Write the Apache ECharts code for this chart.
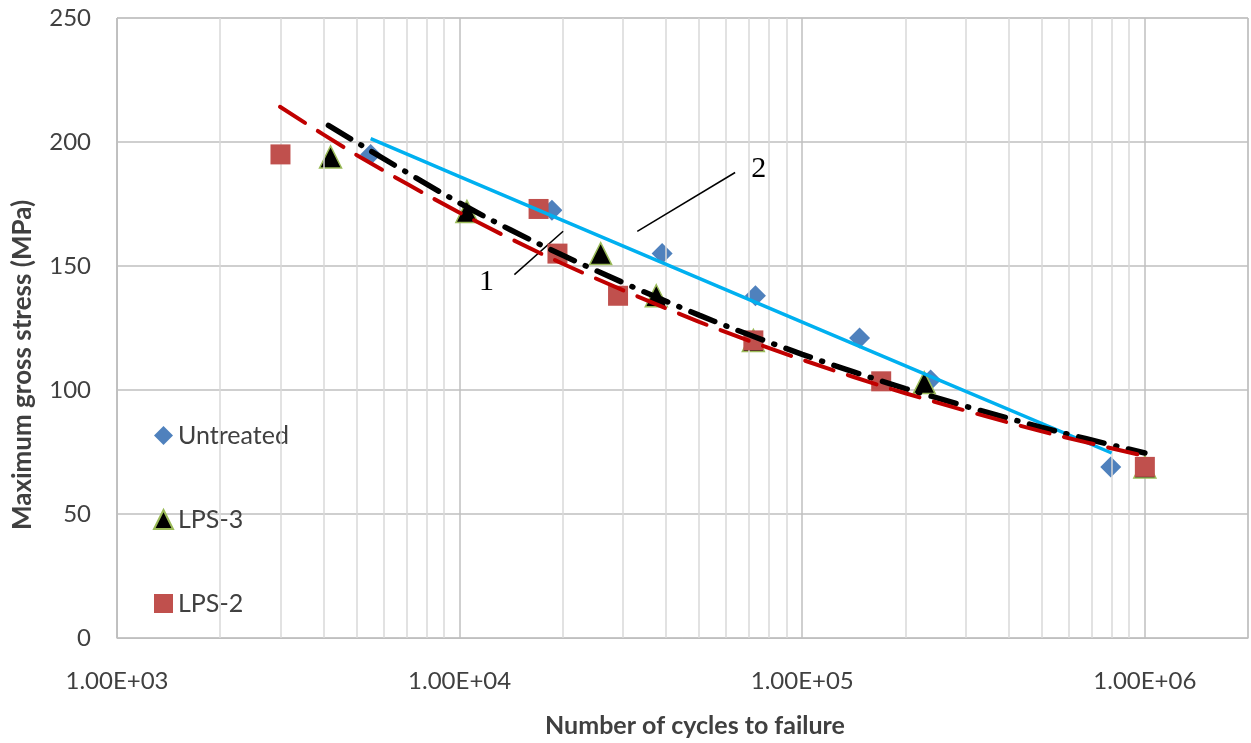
<!DOCTYPE html>
<html>
<head>
<meta charset="utf-8">
<script src="https://cdn.jsdelivr.net/npm/echarts@6/dist/echarts.min.js"></script>
<style>
  html, body { margin: 0; padding: 0; background: #fff; }
  #chart { width: 1251px; height: 743px; }
</style>
</head>
<body>
<div id="chart"></div>
<script>
// measured data points [cycles, stress MPa]
const untreated = [[5500, 195], [18600, 172.5], [39000, 155], [73000, 138], [147000, 121], [237000, 104], [795000, 69]];
const lps3 = [[4200, 194], [10500, 172], [25800, 155], [37500, 138], [72000, 120], [227000, 103], [1000000, 69]];
const lps2 = [[3000, 195], [17000, 173], [19300, 155], [29000, 138], [72000, 120], [170000, 103.5], [1000000, 69]];

// trend lines
const trendUntreated = [[5500, 201.4], [10000, 186], [100000, 127.4], [800000, 74.6]];
const trendLps3 = [[4140, 206.7], [10000, 175.4], [20000, 154.3], [50000, 130.2], [100000, 114.4], [200000, 100.6], [500000, 84.9], [1000000, 74.6]];
const trendLps2 = [[2990, 214.2], [5000, 194.8], [10000, 171.5], [20000, 150.9], [50000, 127.5], [100000, 112.2], [200000, 98.7], [500000, 83.3], [1000000, 73.4]];

// axis ticks
const xTickValues = [1000, 10000, 100000, 1000000];
const xTickLabels = ['1.00E+03', '1.00E+04', '1.00E+05', '1.00E+06'];
const xMinorGrid = [2000, 3000, 4000, 5000, 6000, 7000, 8000, 9000,
  20000, 30000, 40000, 50000, 60000, 70000, 80000, 90000,
  200000, 300000, 400000, 500000, 600000, 700000, 800000, 900000];

// annotation callouts "1" and "2"
const leader1 = [[14450, 146.5], [20050, 164.0]];
const leader2 = [[33000, 164.0], [63700, 187.7]];
const labelPoints = [{ name: '1', coord: [11970, 143.5] }, { name: '2', coord: [74600, 189] }];

const font = 'Lato, "Open Sans", sans-serif';
let myChart = echarts.init(document.getElementById('chart'));

myChart.setOption({
  animation: false,
  textStyle: { fontFamily: font },
  grid: {
    left: 117, right: 3, top: 18, bottom: 102,
    show: true, borderColor: '#BFBFBF', borderWidth: 1
  },
  legend: {
    data: ['Untreated', 'LPS-3', 'LPS-2'],
    orient: 'vertical',
    left: 148,
    top: 418,
    itemWidth: 19,
    itemHeight: 19,
    itemGap: 59,
    textStyle: { fontSize: 25, color: '#404040', fontFamily: font }
  },
  xAxis: {
    type: 'log',
    logBase: 10,
    min: 1000,
    max: 2000000,
    name: 'Number of cycles to failure',
    nameLocation: 'middle',
    nameGap: 75,
    nameTextStyle: { fontSize: 25, fontWeight: 'bold', color: '#404040', padding: [0, 0, 0, 25] },
    axisLine: { lineStyle: { color: '#BFBFBF', width: 1 } },
    axisTick: { show: false },
    splitLine: { show: true, lineStyle: { color: '#BFBFBF', width: 1.5 } },
    axisLabel: {
      fontSize: 24,
      color: '#404040',
      margin: 31,
      showMaxLabel: false,
      formatter: function (v) {
        for (let i = 0; i < xTickValues.length; i++) {
          if (Math.abs(v - xTickValues[i]) / xTickValues[i] < 1e-6) return xTickLabels[i];
        }
        return '';
      }
    }
  },
  yAxis: {
    type: 'value',
    min: 0,
    max: 250,
    interval: 50,
    name: 'Maximum gross stress (MPa)',
    nameLocation: 'middle',
    nameGap: 81,
    nameTextStyle: { fontSize: 26, fontWeight: 'bold', color: '#404040', padding: [0, 74, 0, 0] },
    axisLine: { show: true, lineStyle: { color: '#BFBFBF', width: 1 } },
    axisTick: { show: false },
    splitLine: { lineStyle: { color: '#BFBFBF', width: 1.5 } },
    axisLabel: { fontSize: 24, color: '#404040', margin: 26 }
  },
  series: [
    {
      name: 'minor-grid',
      type: 'line',
      data: [],
      z: 0,
      silent: true,
      markLine: {
        silent: true,
        symbol: ['none', 'none'],
        label: { show: false },
        lineStyle: { color: '#D9D9D9', width: 1.5, type: 'solid' },
        data: xMinorGrid.map(v => ({ xAxis: v }))
      }
    },
    {
      name: 'Untreated',
      type: 'scatter',
      data: untreated,
      symbol: 'diamond',
      symbolSize: 21,
      itemStyle: { color: '#4F81BD', opacity: 1 },
      z: 3
    },
    {
      name: 'LPS-3',
      type: 'scatter',
      data: lps3,
      symbol: 'triangle',
      symbolSize: 22,
      itemStyle: { color: '#000000', borderColor: '#9BBB59', borderWidth: 1.5, opacity: 1 },
      z: 4
    },
    {
      name: 'LPS-2',
      type: 'scatter',
      data: lps2,
      symbol: 'rect',
      symbolSize: 20,
      itemStyle: { color: '#C0504D', opacity: 1 },
      z: 5
    },
    {
      name: 'trend-untreated',
      type: 'line',
      data: trendUntreated,
      symbol: 'none',
      smooth: 0.3,
      lineStyle: { color: '#00B0F0', width: 3.5 },
      z: 6
    },
    {
      name: 'trend-lps3',
      type: 'line',
      data: trendLps3,
      symbol: 'none',
      smooth: 0.3,
      lineStyle: { color: '#000000', width: 5.5, type: [26, 12, 1, 12], cap: 'round' },
      z: 7
    },
    {
      name: 'trend-lps2',
      type: 'line',
      data: trendLps2,
      symbol: 'none',
      smooth: 0.3,
      lineStyle: { color: '#C00000', width: 4, type: [30, 15], cap: 'round' },
      z: 8
    },
    {
      name: 'callouts',
      type: 'line',
      data: [],
      z: 9,
      silent: true,
      markLine: {
        silent: true,
        symbol: ['none', 'none'],
        label: { show: false },
        lineStyle: { color: '#000000', width: 1.5, type: 'solid' },
        data: [
          [{ coord: leader1[0] }, { coord: leader1[1] }],
          [{ coord: leader2[0] }, { coord: leader2[1] }]
        ]
      },
      markPoint: {
        silent: true,
        symbol: 'circle',
        symbolSize: 1,
        itemStyle: { color: 'rgba(0,0,0,0)' },
        label: {
          show: true,
          position: 'inside',
          formatter: '{b}',
          fontFamily: '"Liberation Serif", "DejaVu Serif", serif',
          fontSize: 30,
          color: '#000000'
        },
        data: labelPoints
      }
    }
  ]
});
</script>
</body>
</html>
